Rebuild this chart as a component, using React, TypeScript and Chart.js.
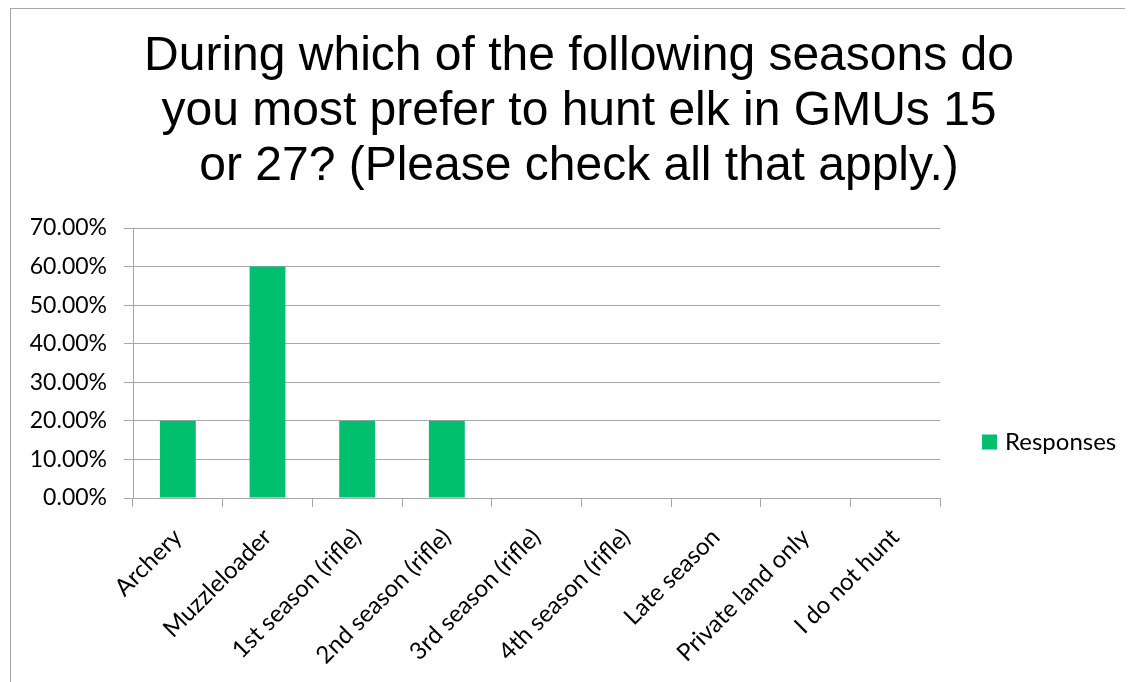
import React, { useEffect, useRef } from 'react';
import { Chart, registerables } from 'chart.js';

Chart.register(...registerables);

const TITLE_LINES = [
  'During which of the following seasons do',
  'you most prefer to hunt elk in GMUs 15',
  'or 27? (Please check all that apply.)',
];

const CATEGORIES = [
  'Archery',
  'Muzzleloader',
  '1st season (rifle)',
  '2nd season (rifle)',
  '3rd season (rifle)',
  '4th season (rifle)',
  'Late season',
  'Private land only',
  'I do not hunt',
];

const SERIES_LABEL = 'Responses';
const RESPONSES = [0.2, 0.6, 0.2, 0.2, 0, 0, 0, 0, 0];

const Y_MIN = 0;
const Y_MAX = 0.7;
const Y_STEP = 0.1;

const BAR_COLOR = '#00BF6F';
const GRID_COLOR = '#a6a6a6';
const TICK_FONT = 'Lato';

const CANVAS_W = 1122;
const CANVAS_H = 673;

const sideLegend = {
  id: 'sideLegend',
  afterDraw(chart: any) {
    const ctx = chart.ctx;
    const ds = chart.data.datasets[0];
    const x = chart.chartArea.right + 42;
    const y = chart.chartArea.top + 214;
    ctx.save();
    ctx.fillStyle = ds.backgroundColor;
    ctx.fillRect(x, y - 7.5, 15, 15);
    ctx.fillStyle = '#000';
    ctx.font = `24px ${TICK_FONT}`;
    ctx.textBaseline = 'middle';
    ctx.textAlign = 'left';
    ctx.fillText(ds.label, x + 23, y);
    ctx.restore();
  },
};

export default function App() {
  const canvasRef = useRef<HTMLCanvasElement | null>(null);

  useEffect(() => {
    document.documentElement.style.overflow = 'hidden';
    document.body.style.overflow = 'hidden';
    const canvas = canvasRef.current;
    if (!canvas) return;
    const chart = new Chart(canvas, {
      type: 'bar',
      data: {
        labels: CATEGORIES,
        datasets: [
          {
            label: SERIES_LABEL,
            data: RESPONSES,
            backgroundColor: BAR_COLOR,
            borderWidth: 0,
            barPercentage: 0.4,
            categoryPercentage: 1,
          },
        ],
      },
      options: {
        responsive: false,
        animation: false,
        layout: { padding: { left: 14, right: 0, top: 0, bottom: 0 } },
        plugins: {
          legend: { display: false },
          tooltip: { enabled: false },
          title: {
            display: true,
            text: TITLE_LINES,
            color: '#000',
            font: { family: 'Liberation Sans', size: 48, weight: 'normal', lineHeight: 1.146 },
            padding: { top: 20, bottom: 34 },
          },
        },
        scales: {
          x: {
            offset: true,
            grid: {
              display: true,
              drawOnChartArea: false,
              drawTicks: true,
              tickLength: 9,
              color: GRID_COLOR,
              offset: true,
            },
            border: { display: true, color: GRID_COLOR },
            ticks: {
              color: '#000',
              font: { family: TICK_FONT, size: 24 },
              minRotation: 45,
              maxRotation: 45,
              autoSkip: false,
              padding: 16,
            },
            afterFit(scale: any) {
              scale.height = 184;
            },
          },
          y: {
            min: Y_MIN,
            max: Y_MAX,
            grid: {
              color: GRID_COLOR,
              tickLength: 9,
              drawTicks: true,
            },
            border: { display: true, color: GRID_COLOR },
            ticks: {
              stepSize: Y_STEP,
              color: '#000',
              font: { family: TICK_FONT, size: 23 },
              padding: 17,
              callback: (v: any) => (Number(v) * 100).toFixed(2) + '%',
            },
            afterFit(scale: any) {
              scale.width = 108;
            },
          },
          legendSpace: {
            type: 'linear',
            position: 'right',
            display: true,
            grid: { display: false },
            border: { display: false },
            ticks: { display: false },
            afterFit(scale: any) {
              scale.width = 193;
            },
          },
        },
      },
      plugins: [sideLegend],
    });
    return () => chart.destroy();
  }, []);

  return (
    <div
      style={{
        marginLeft: 2,
        borderLeft: '1px solid #a6a6a6',
        borderTop: '1px solid #a6a6a6',
        width: CANVAS_W,
        height: CANVAS_H,
      }}
    >
      <canvas ref={canvasRef} width={CANVAS_W} height={CANVAS_H} style={{ display: 'block' }} />
    </div>
  );
}
